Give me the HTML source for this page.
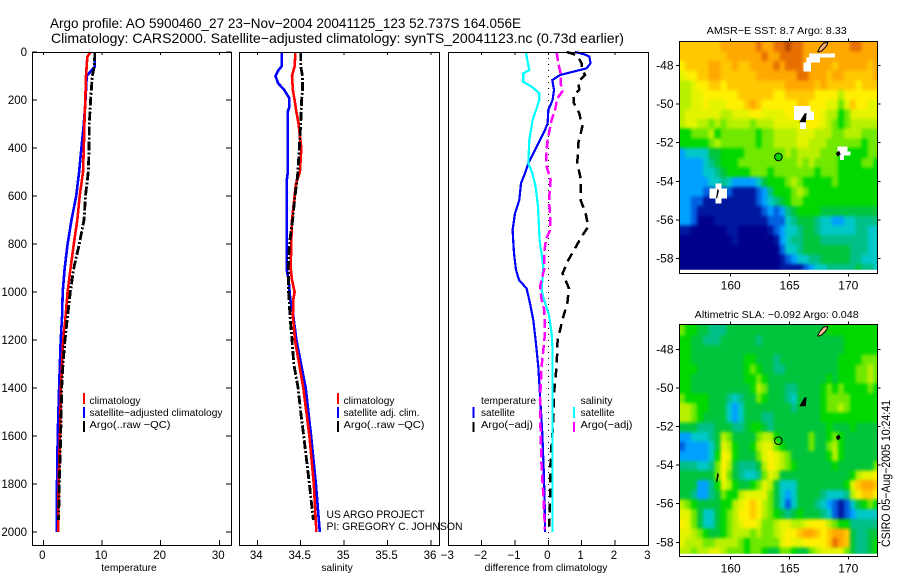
<!DOCTYPE html>
<html>
<head>
<meta charset="utf-8">
<title>Argo profile chart</title>
<style>
html,body{margin:0;padding:0;background:#fff;width:900px;height:580px;overflow:hidden}
svg{display:block}
text{font-family:"Liberation Sans",sans-serif;fill:#000}
</style>
</head>
<body>
<svg id="fig" xmlns="http://www.w3.org/2000/svg" width="900" height="580" viewBox="0 0 900 580">
  <defs>
    <filter id="soften" x="-5%" y="-5%" width="110%" height="110%" color-interpolation-filters="sRGB"><feGaussianBlur stdDeviation="1.6"/></filter>
    <clipPath id="sst-clip"><rect x="680" y="42" width="197" height="227.7"/></clipPath>
    <clipPath id="sla-clip"><rect x="680" y="325" width="197" height="228.7"/></clipPath>
  </defs>
  <rect x="0" y="0" width="900" height="580" fill="#fff"/>
  <text x="50" y="28" font-size="14" textLength="471" lengthAdjust="spacingAndGlyphs">Argo profile: AO 5900460_27 23−Nov−2004 20041125_123 52.737S 164.056E</text>
  <text x="51" y="43" font-size="14" textLength="573" lengthAdjust="spacingAndGlyphs">Climatology: CARS2000. Satellite−adjusted climatology: synTS_20041123.nc (0.73d earlier)</text>

  <g id="panels"></g>
  <g id="maps"></g>

  <g font-size="10.5">
    <line x1="84" y1="393" x2="84" y2="404" stroke="#ff0000" stroke-width="2"/>
    <line x1="84" y1="407" x2="84" y2="418" stroke="#0000ff" stroke-width="2"/>
    <line x1="84" y1="421" x2="84" y2="432" stroke="#000" stroke-width="2"/>
    <text x="89.5" y="404" textLength="51" lengthAdjust="spacingAndGlyphs">climatology</text>
    <text x="89.5" y="416" textLength="133" lengthAdjust="spacingAndGlyphs">satellite−adjusted climatology</text>
    <text x="89.5" y="428" textLength="81" lengthAdjust="spacingAndGlyphs">Argo(..raw −QC)</text>
  </g>
  <g font-size="10.5">
    <line x1="338" y1="393" x2="338" y2="404" stroke="#ff0000" stroke-width="2"/>
    <line x1="338" y1="407" x2="338" y2="418" stroke="#0000ff" stroke-width="2"/>
    <line x1="338" y1="421" x2="338" y2="432" stroke="#000" stroke-width="2"/>
    <text x="343.5" y="404" textLength="51" lengthAdjust="spacingAndGlyphs">climatology</text>
    <text x="343.5" y="416" textLength="76" lengthAdjust="spacingAndGlyphs">satellite adj. clim.</text>
    <text x="343.5" y="428" textLength="81" lengthAdjust="spacingAndGlyphs">Argo(..raw −QC)</text>
  </g>
  <g font-size="10.5">
    <text x="481" y="404" textLength="55" lengthAdjust="spacingAndGlyphs">temperature</text>
    <line x1="473.5" y1="407" x2="473.5" y2="418" stroke="#0000ff" stroke-width="2"/>
    <line x1="473.5" y1="422" x2="473.5" y2="432" stroke="#000" stroke-width="2"/>
    <text x="481" y="416" textLength="34" lengthAdjust="spacingAndGlyphs">satellite</text>
    <text x="481" y="428" textLength="52" lengthAdjust="spacingAndGlyphs">Argo(−adj)</text>
    <text x="580.5" y="404" textLength="32" lengthAdjust="spacingAndGlyphs">salinity</text>
    <line x1="574" y1="407" x2="574" y2="418" stroke="#00ffff" stroke-width="2"/>
    <line x1="574" y1="422" x2="574" y2="432" stroke="#ff00ff" stroke-width="2"/>
    <text x="580.5" y="416" textLength="34" lengthAdjust="spacingAndGlyphs">satellite</text>
    <text x="580.5" y="428" textLength="52" lengthAdjust="spacingAndGlyphs">Argo(−adj)</text>
  </g>
  <text x="326.5" y="518" font-size="11" textLength="98" lengthAdjust="spacingAndGlyphs">US ARGO PROJECT</text>
  <text x="326.5" y="530" font-size="11" textLength="136" lengthAdjust="spacingAndGlyphs">PI: GREGORY C. JOHNSON</text>
  <text transform="translate(890,547) rotate(-90)" font-size="12" textLength="147" lengthAdjust="spacingAndGlyphs">CSIRO 05−Aug−2005 10:24:41</text>
</svg>

<script>
// ---- temperature panel data ----
const tempClimDepth = [0,20,100,200,300,400,500,600,700,800,900,1000,1100,1200,1300,1400,1600,1800,2000];
const tempClim = [8.07,7.5,7.27,7.16,7.0,6.9,6.77,6.2,5.8,5.2,4.66,4.15,3.8,3.4,3.2,3.0,2.85,2.6,2.55];
const tempSatDepth = [0,60,100,200,300,400,500,600,700,800,900,1000,1100,1200,1400,1600,1800,2000];
const tempSat = [8.8,8.8,7.4,7.2,6.9,6.5,6.1,5.6,4.8,4.15,3.65,3.3,3.2,2.96,2.7,2.45,2.33,2.28];
const tempArgoDepth = [0,60,100,200,300,400,500,600,700,800,900,1000,1100,1200,1300,1400,1600,1800,1950];
const tempArgo = [8.8,8.7,8.35,8.07,7.84,7.8,7.67,7.2,6.93,6.14,5.2,4.6,4.15,3.7,3.35,3.13,2.97,2.73,2.6];

// ---- salinity panel data ----
const salClimDepth = [0,60,100,160,200,250,300,350,400,500,550,600,700,800,900,950,1000,1033,1100,1200,1400,1600,1800,2000];
const salClim = [34.44,34.43,34.40,34.41,34.43,34.45,34.476,34.49,34.507,34.49,34.445,34.43,34.40,34.39,34.385,34.40,34.43,34.415,34.41,34.434,34.53,34.6,34.65,34.68];
const salSatDepth = [0,60,78,100,130,158,193,228,250,505,533,908,950,1033,1100,1200,1400,1600,1800,2000];
const salSat = [34.28,34.28,34.24,34.21,34.24,34.31,34.37,34.37,34.35,34.35,34.34,34.34,34.36,34.38,34.415,34.45,34.557,34.62,34.675,34.72];
const salArgoDepth = [0,60,100,160,200,300,400,500,550,600,700,780,850,900,1000,1100,1200,1300,1400,1500,1600,1800,1950];
const salArgo = [34.50,34.50,34.52,34.52,34.51,34.50,34.484,34.468,34.453,34.434,34.407,34.376,34.36,34.357,34.36,34.376,34.40,34.42,34.47,34.50,34.534,34.6,34.645];

// ---- difference panel data ----
const diffTempSatDepth = [0,8,19,47,68,82,96,117,158,200,242,297,325,367,422,464,505,547,617,672,742,839,908,950,985,1047,1117,1200,1311,1400,1589,1728,1867,2000];
const diffTempSat = [0.8,1.05,1.23,1.27,1.15,0.75,0.35,0.12,0.17,0.13,0,-0.02,-0.1,-0.25,-0.45,-0.6,-0.7,-0.82,-0.87,-1.0,-1.07,-1.03,-0.97,-0.88,-0.65,-0.55,-0.45,-0.38,-0.3,-0.26,-0.18,-0.14,-0.11,-0.1];
const diffTempArgoDepth = [0,8,19,47,68,96,124,158,179,214,256,311,380,464,533,617,672,728,769,811,867,922,985,1047,1103,1200,1311,1422,1547,1686,1867,1978];
const diffTempArgo = [0.55,0.75,0.9,1.0,1.0,1.1,0.9,0.93,0.75,0.77,0.93,1.02,0.9,0.87,0.98,0.97,1.12,1.2,1.0,0.83,0.6,0.43,0.62,0.57,0.45,0.28,0.25,0.17,0.15,0.07,0.05,0.03];
const diffSalSatDepth = [0,33,75,89,124,144,172,200,242,283,367,464,505,561,644,783,894,992,1033,1095,1172,1242,2000];
const diffSalSat = [-0.67,-0.63,-0.57,-0.75,-0.75,-0.5,-0.27,-0.27,-0.37,-0.47,-0.57,-0.6,-0.48,-0.38,-0.31,-0.26,-0.15,-0.2,-0.13,0.02,0.1,0.13,0.13];
const diffSalArgoDepth = [0,47,89,130,165,193,242,283,367,436,478,533,617,672,742,783,839,908,978,1033,1075,1172,1311,1450,1589,1728,1867,1990];
const diffSalArgo = [0.25,0.3,0.37,0.37,0.42,0.27,0.2,0.1,-0.02,-0.07,-0.05,0.07,0.02,0.05,0.05,-0.07,-0.13,-0.13,-0.25,-0.2,-0.12,-0.1,-0.2,-0.25,-0.23,-0.2,-0.14,-0.1];
const zeroLineDepth = [0,2054];
const zeroLineDiff = [0,0];

// ---- tick labels ----
const depthTicks = [0,200,400,600,800,1000,1200,1400,1600,1800,2000];
const tempTicks = [0,10,20,30];
const tempTickLabels = ["0","10","20","30"];
const salTicks = [34,34.5,35,35.5,36];
const salTickLabels = ["34","34.5","35","35.5","36"];
const diffTicks = [-3,-2,-1,0,1,2,3];
const diffTickLabels = ["−3","−2","−1","0","1","2","3"];
const lonTicks = [160,165,170];
const latTicks = [-48,-50,-52,-54,-56,-58];

// ---- colour levels for the map cells ----
const levelColors = ["#00008c","#0018a0","#0060e0","#00a0ff","#00c8c8","#00c088","#00c43c","#00d800","#70e800","#b8f000","#e4f400","#fff000","#ffc800","#ffa800","#e87000","#b84800"];

// ---- SST map cells (0.5 degree rows, north to south) ----
const sstRow00 = [12,12,12,12,12,12,12,13,13,13,13,13,13,14,13,13,14,14,15,14,14,13,13,13,13,13,13,13,13,14,14,13,13,13];
const sstRow01 = [12,12,12,12,12,12,12,12,13,13,13,13,13,13,14,13,13,14,14,14,14,13,13,13,13,13,13,13,13,13,13,13,13,13];
const sstRow02 = [11,12,12,12,12,13,13,12,12,13,12,12,13,13,13,13,14,13,14,14,14,13,13,13,13,13,12,13,13,13,13,13,12,13];
const sstRow03 = [10,11,11,12,12,13,13,12,12,12,12,12,12,13,13,13,13,13,13,13,14,14,13,13,13,12,13,13,12,12,12,12,12,13];
const sstRow04 = [9,9,10,11,11,12,12,11,12,12,12,12,12,12,12,12,12,12,13,13,13,13,13,12,13,12,12,12,12,12,11,12,12,12];
const sstRow05 = [9,9,10,10,11,11,11,11,11,11,12,12,12,12,12,12,11,11,12,12,12,12,12,11,11,11,11,9,11,11,11,11,11,11];
const sstRow06 = [9,9,10,10,11,10,10,10,11,11,11,12,13,12,11,11,11,11,11,11,12,12,11,11,11,10,10,8,10,12,11,11,10,10];
const sstRow07 = [9,10,10,10,10,10,10,9,9,10,10,10,11,11,10,10,10,10,11,11,11,11,11,11,10,9,9,7,8,10,10,10,10,10];
const sstRow08 = [9,10,10,9,9,8,9,8,9,9,9,9,8,9,9,9,10,10,10,10,10,11,11,11,10,9,8,7,8,9,9,9,9,9];
const sstRow09 = [7,7,8,8,8,9,7,8,8,8,8,8,8,7,8,8,9,9,9,9,10,10,10,9,9,9,8,8,9,9,9,8,8,8];
const sstRow10 = [7,7,7,7,7,8,9,8,8,8,8,8,8,7,8,8,9,9,9,9,10,10,9,9,9,8,8,8,8,8,8,7,8,8];
const sstRow11 = [3,4,4,4,4,6,6,7,7,7,7,8,8,8,8,8,8,8,9,8,9,9,9,9,8,8,8,7,7,7,7,7,8,8];
const sstRow12 = [3,3,3,3,4,5,6,7,7,7,8,8,8,8,8,8,8,8,8,8,9,8,9,8,8,8,8,7,7,7,7,8,8,7];
const sstRow13 = [3,3,3,3,4,4,5,6,7,7,7,7,8,8,8,7,8,8,8,8,8,8,8,7,8,8,8,7,7,7,7,7,7,7];
const sstRow14 = [3,3,3,3,3,4,4,5,4,3,3,3,3,4,6,7,7,7,8,9,8,7,7,7,7,7,8,7,7,7,7,7,7,7];
const sstRow15 = [3,3,3,3,2,2,2,2,2,1,1,1,1,2,3,5,7,7,7,8,9,8,7,7,7,7,7,7,7,7,7,7,7,7];
const sstRow16 = [3,3,2,2,1,1,1,1,1,1,1,1,1,2,3,4,5,6,7,8,8,7,7,7,7,7,7,7,7,7,7,7,7,7];
const sstRow17 = [3,3,2,1,1,1,1,1,1,1,1,1,1,1,2,3,2,3,5,6,7,7,7,7,6,6,6,6,6,6,6,6,6,6];
const sstRow18 = [3,3,2,0,0,0,1,1,1,1,1,1,1,1,1,2,2,2,4,5,6,6,6,5,4,4,3,3,4,4,5,5,5,5];
const sstRow19 = [1,1,0,0,0,0,0,0,1,1,0,0,0,0,0,1,2,3,4,4,5,6,6,5,4,4,4,4,4,4,5,5,4,4];
const sstRow20 = [0,0,0,0,0,0,0,0,0,1,0,0,0,0,0,0,1,3,4,5,5,6,6,6,5,5,5,5,5,5,5,5,4,4];
const sstRow21 = [0,0,0,0,0,0,0,0,0,0,0,0,0,0,0,0,0,2,4,4,5,6,6,6,6,6,6,6,6,5,5,5,4,4];
const sstRow22 = [0,0,0,0,0,0,0,0,0,0,0,0,0,0,0,0,0,1,2,3,4,4,5,5,6,6,6,6,6,5,5,4,4,4];
const sstRow23 = [0,0,0,0,0,0,0,0,0,0,0,0,0,0,0,0,0,1,1,1,1,2,3,4,4,5,5,5,5,5,6,5,5,4];
const sstRows = [sstRow00,sstRow01,sstRow02,sstRow03,sstRow04,sstRow05,sstRow06,sstRow07,sstRow08,sstRow09,sstRow10,sstRow11,sstRow12,sstRow13,sstRow14,sstRow15,sstRow16,sstRow17,sstRow18,sstRow19,sstRow20,sstRow21,sstRow22,sstRow23];

// ---- SLA map cells ----
const slaRow00 = [8,7,7,6,6,5,5,5,6,6,6,6,6,6,6,6,6,6,6,6,6,6,6,6,6,7,7,7,7,7,7,7,7,7];
const slaRow01 = [7,7,6,6,5,5,5,6,6,6,6,6,6,5,6,6,6,6,6,6,6,6,6,6,6,6,6,6,7,7,7,7,7,7];
const slaRow02 = [7,7,6,6,6,6,6,6,6,6,6,6,6,6,6,6,6,6,6,6,6,6,6,6,6,6,6,6,7,7,7,7,7,7];
const slaRow03 = [7,7,6,6,6,6,6,6,6,6,6,7,7,6,6,6,5,6,6,6,6,6,6,6,6,6,6,7,7,7,7,8,8,8];
const slaRow04 = [7,7,7,6,6,6,6,6,6,6,6,7,8,7,6,6,5,5,6,6,6,6,6,6,6,6,6,7,7,7,8,8,9,8];
const slaRow05 = [7,7,6,6,6,6,6,6,6,6,6,7,7,8,7,6,6,6,6,6,6,6,6,6,6,7,6,7,7,7,8,8,9,8];
const slaRow06 = [7,7,6,6,6,6,6,6,6,6,6,6,7,9,8,6,6,6,5,5,6,6,6,6,7,8,7,8,7,7,7,7,8,7];
const slaRow07 = [8,7,7,7,7,6,6,6,5,4,5,6,6,8,7,6,6,6,5,4,6,6,6,6,7,8,8,8,8,7,7,7,7,7];
const slaRow08 = [9,9,8,7,7,6,6,6,4,3,4,6,6,6,6,6,6,6,6,5,6,6,6,6,7,8,8,9,8,7,7,7,7,7];
const slaRow09 = [9,9,8,7,6,6,6,6,4,3,4,6,6,6,5,5,6,6,6,6,6,6,6,6,7,7,7,7,7,7,7,7,7,7];
const slaRow10 = [6,6,6,5,5,5,6,6,6,5,5,6,7,7,6,5,6,6,6,6,6,6,6,6,6,7,6,6,6,7,6,6,6,6];
const slaRow11 = [3,3,4,4,4,5,6,9,8,6,6,6,6,8,9,9,7,6,6,6,6,6,8,6,6,7,8,7,6,6,6,6,6,6];
const slaRow12 = [2,3,3,3,3,4,6,10,9,7,6,6,7,9,10,10,8,7,6,6,6,6,8,6,6,8,9,7,6,6,6,6,6,6];
const slaRow13 = [3,3,3,3,3,4,7,11,10,7,6,6,6,8,10,11,10,9,8,6,6,6,6,6,6,7,9,7,6,6,6,6,6,6];
const slaRow14 = [5,5,5,4,4,5,8,11,9,6,5,5,5,6,9,11,10,9,8,7,6,6,6,6,6,6,7,6,6,6,6,6,6,8];
const slaRow15 = [6,6,6,6,6,6,8,11,8,6,5,4,4,5,8,10,9,6,6,6,6,6,6,6,6,6,6,6,6,7,9,10,10,11];
const slaRow16 = [6,6,6,3,3,5,7,10,9,7,6,6,7,8,10,9,6,4,4,4,6,6,6,6,6,6,6,6,7,10,12,13,13,12];
const slaRow17 = [6,6,5,3,3,5,6,8,7,7,9,10,10,10,10,8,6,4,3,4,6,6,6,6,5,4,4,4,5,9,11,12,12,11];
const slaRow18 = [9,8,7,6,6,6,6,7,7,9,10,11,12,11,9,8,6,4,2,4,6,6,6,5,4,3,2,1,2,4,6,7,8,7];
const slaRow19 = [10,10,8,6,4,4,6,7,8,9,11,11,12,11,9,8,7,6,5,6,7,6,6,6,5,4,2,1,2,3,4,4,4,4];
const slaRow20 = [11,10,8,6,4,4,6,7,8,9,10,11,11,10,8,8,9,10,10,9,9,10,11,11,11,9,8,7,7,5,5,5,5,5];
const slaRow21 = [10,10,9,8,7,6,6,7,8,9,9,9,8,9,8,8,9,10,11,11,12,13,13,12,11,12,13,13,12,6,5,5,6,6];
const slaRow22 = [10,9,9,9,8,8,9,9,9,9,8,7,8,8,8,8,8,10,11,10,10,11,11,11,11,12,14,13,12,6,5,5,6,7];
const slaRow23 = [9,9,8,9,9,10,10,9,8,8,8,7,8,8,7,6,6,8,8,7,6,6,8,9,10,10,10,10,8,6,5,5,6,7];
const slaRows = [slaRow00,slaRow01,slaRow02,slaRow03,slaRow04,slaRow05,slaRow06,slaRow07,slaRow08,slaRow09,slaRow10,slaRow11,slaRow12,slaRow13,slaRow14,slaRow15,slaRow16,slaRow17,slaRow18,slaRow19,slaRow20,slaRow21,slaRow22,slaRow23];

// ---- SST data gaps: west, east, north, south edges (deg) ----
const sstGapWest  = [166.66,166.46,166.18,165.39,166.8,165.9,169.1,169.95,169.3,158.18,158.7,158.7];
const sstGapEast  = [168.87,167.6,166.83,166.8,167.1,166.4,169.95,170.2,169.63,159.7,159.2,159.2];
const sstGapNorth = [-47.38,-47.6,-47.86,-50.10,-50.4,-50.83,-52.2,-52.45,-52.66,-54.36,-54.1,-54.88];
const sstGapSouth = [-47.6,-47.86,-48.33,-50.83,-50.83,-51.3,-52.66,-52.66,-52.9,-54.88,-54.36,-55.14];

// ---- float position and islands (lon/lat) ----
const floatLon = 164.056;
const floatLat = -52.737;
const stewartLon = [167.4,167.55,167.9,168.25,168.2,168.0,167.75,167.45];
const stewartLat = [-47.3,-47.1,-46.85,-46.82,-46.95,-47.1,-47.25,-47.32];
const aucklandLon = [165.9,166.3,166.4,166.35];
const aucklandLat = [-50.92,-50.52,-50.5,-50.92];
const campbellLon = [169.0,169.2,169.3,169.1];
const campbellLat = [-52.55,-52.45,-52.6,-52.68];
const macquarieLon = [158.8,158.9,158.95,158.82];
const macquarieLat = [-54.85,-54.45,-54.5,-54.85];

const NS = 'http://www.w3.org/2000/svg';
const panelsG = document.getElementById('panels');
const mapsG = document.getElementById('maps');

function mk(tag, parent){
  const e = document.createElementNS(NS, tag);
  parent.appendChild(e);
  return e;
}
function setA(e, o){ for (const k in o) e.setAttribute(k, o[k]); }

function linear(d0, d1, p0, p1){
  return function(v){ return p0 + (v - d0) * (p1 - p0) / (d1 - d0); };
}

const depthY = linear(0, 2000, 52, 532);
const tempX = linear(0, 30, 43.3, 219.3);
const salX = linear(34, 36, 257.3, 431);
const diffX = linear(-3, 3, 448.3, 648.3);

function drawBox(parent, x0, y0, x1, y1){
  const r = mk('rect', parent);
  
  
  setA(r, {x:x0, y:y0, width:x1-x0, height:y1-y0, fill:'none', stroke:'#000', 'stroke-width':1.2, 'shape-rendering':'crispEdges'});
}
function tickLine(parent, x1, y1, x2, y2){
  const l = mk('line', parent);
  
  
  setA(l, {x1:x1, y1:y1, x2:x2, y2:y2, stroke:'#000', 'stroke-width':1, 'shape-rendering':'crispEdges'});
}
function label(parent, x, y, str, size, anchor){
  const t = mk('text', parent);
  
  
  setA(t, {x:x, y:y, 'font-size':size, 'text-anchor':anchor});
  t.textContent = str;
}
function axisTitle(parent, x, y, str){
  const t = mk('text', parent);
  
  
  setA(t, {x:x, y:y, 'font-size':10.3, 'text-anchor':'middle'});
  t.textContent = str;
}
function series(parent, name, xs, depths, xFn, color, width, dash){
  const pts = [];
  for (let i = 0; i < xs.length; i++) pts.push(xFn(xs[i]).toFixed(1) + ',' + depthY(depths[i]).toFixed(1));
  const p = mk('polyline', parent);
  
  
  setA(p, {points:pts.join(' '), fill:'none', stroke:color, 'stroke-width':width, 'shape-rendering':'crispEdges'});
  if (dash) p.setAttribute('stroke-dasharray', dash);
}
function panel(name, x0, x1, xFn, ticks, labels, title, titleX){
  const g = mk('g', panelsG);
  
  
  ticks.forEach(function(v, i){
    const px = xFn(v);
    tickLine(g, px, 52, px, 55);
    tickLine(g, px, 545, px, 540);
    label(g, px - 1, 559, labels[i], 11.5, 'middle');
  });
  axisTitle(g, titleX, 571, title);
  return g;
}

// temperature panel
const p1 = panel('temperature-panel', 32.5, 231.5, tempX, tempTicks, tempTickLabels, 'temperature', 129);
depthTicks.forEach(function(d){
  const y = depthY(d);
  tickLine(p1, 32.5, y, 37, y);
  tickLine(p1, 231.5, y, 226, y);
  label(p1, 27, y + 4, String(d), 11.5, 'end');
});
series(p1, 'temperature-satellite-line', tempSat, tempSatDepth, tempX, '#0000ff', 2.6);
series(p1, 'temperature-climatology-line', tempClim, tempClimDepth, tempX, '#ff0000', 2.6);
series(p1, 'temperature-argo-line', tempArgo, tempArgoDepth, tempX, '#000', 2.8, '9 2 2 2');
drawBox(p1, 32.5, 52.5, 231.5, 545.5);

// salinity panel
const p2 = panel('salinity-panel', 239.5, 439.5, salX, salTicks, salTickLabels, 'salinity', 337);
series(p2, 'salinity-satellite-line', salSat, salSatDepth, salX, '#0000ff', 2.6);
series(p2, 'salinity-climatology-line', salClim, salClimDepth, salX, '#ff0000', 2.6);
series(p2, 'salinity-argo-line', salArgo, salArgoDepth, salX, '#000', 2.8, '9 2 2 2');
drawBox(p2, 239.5, 52.5, 439.5, 545.5);

// difference panel
const p3 = panel('difference-panel', 448.5, 648.5, diffX, diffTicks, diffTickLabels, 'difference from climatology', 546);
series(p3, 'zero-reference-line', zeroLineDiff, zeroLineDepth, diffX, '#000', 1, '1 5');
series(p3, 'difference-temp-satellite-line', diffTempSat, diffTempSatDepth, diffX, '#0000ff', 2.2);
series(p3, 'difference-temp-argo-line', diffTempArgo, diffTempArgoDepth, diffX, '#000', 2.5, '9 6');
series(p3, 'difference-sal-satellite-line', diffSalSat, diffSalSatDepth, diffX, '#00ffff', 2.2);
series(p3, 'difference-sal-argo-line', diffSalArgo, diffSalArgoDepth, diffX, '#ff00ff', 2.5, '9 4');
drawBox(p3, 448.5, 52.5, 648.5, 545.5);

// maps
const mapLon = linear(160, 170, 730.7, 848.3);

function drawMap(name, clipId, rows, latToY, top, boxBottom, titleText, titleY, titleLen){
  const g = mk('g', mapsG);
  
  

  const clipG = mk('g', g);
  
  
  clipG.setAttribute('clip-path', 'url(#' + clipId + ')');
  const imageG = mk('g', clipG);
  
  
  imageG.setAttribute('filter', 'url(#soften)');

  const lat0 = -46.78;
  const lon0 = 155.63;
  rows.forEach(function(row, r){
    row.forEach(function(v, c){
      let x0 = mapLon(lon0 + c * 0.5);
      let x1 = mapLon(lon0 + (c + 1) * 0.5);
      let y0 = latToY(lat0 - r * 0.5);
      let y1 = latToY(lat0 - (r + 1) * 0.5);
      if (c === 0) x0 -= 8;
      if (c === row.length - 1) x1 += 8;
      if (r === 0) y0 -= 8;
      if (r === rows.length - 1) y1 += 8;
      const cell = mk('rect', imageG);
      
      
      setA(cell, {x:x0.toFixed(2), y:y0.toFixed(2), width:(x1-x0+0.3).toFixed(2), height:(y1-y0+0.3).toFixed(2), fill:levelColors[v], 'shape-rendering':'crispEdges'});
    });
  });

  lonTicks.forEach(function(v){
    const px = mapLon(v);
    tickLine(g, px, top - 3, px, top);
    tickLine(g, px, boxBottom, px, boxBottom + 3);
    label(g, px, boxBottom + 16, String(v), 12, 'middle');
  });
  latTicks.forEach(function(v){
    const py = latToY(v);
    tickLine(g, 676, py, 679.5, py);
    tickLine(g, 877.5, py, 880.5, py);
    label(g, 673.5, py + 4, String(v), 12, 'end');
  });

  const t = mk('text', g);
  
  
  setA(t, {x:776.7, y:titleY, 'font-size':10.5, 'text-anchor':'middle', textLength:titleLen, lengthAdjust:'spacingAndGlyphs'});
  t.textContent = titleText;

  drawBox(g, 679.5, top, 877.5, boxBottom);
  return g;
}
function island(parent, name, lons, lats, latToY, fill){
  const pts = [];
  for (let i = 0; i < lons.length; i++) pts.push(mapLon(lons[i]).toFixed(1) + ',' + latToY(lats[i]).toFixed(1));
  const p = mk('polygon', parent);
  
  
  setA(p, {points:pts.join(' '), fill:fill, stroke:'#000', 'stroke-width':1});
}
function floatMarker(parent, latToY, fill){
  const c = mk('circle', parent);
  
  
  setA(c, {cx:mapLon(floatLon).toFixed(1), cy:latToY(floatLat).toFixed(1), r:3.8, fill:fill, stroke:'#000', 'stroke-width':1});
}

const sstY = linear(-48, -58, 65.3, 258.7);
const slaY = linear(-48, -58, 349.3, 542.3);

const m1 = drawMap('sst-map', 'sst-clip', sstRows, sstY, 41.5, 273.5, 'AMSR−E SST: 8.7 Argo: 8.33', 34, 140);
sstGapWest.forEach(function(w, i){
  const gap = mk('rect', m1);
  
  
  setA(gap, {x:mapLon(w).toFixed(1), y:sstY(sstGapNorth[i]).toFixed(1), width:(mapLon(sstGapEast[i])-mapLon(w)).toFixed(1), height:(sstY(sstGapSouth[i])-sstY(sstGapNorth[i])).toFixed(1), fill:'#fff', 'shape-rendering':'crispEdges'});
});
island(m1, 'stewart-island', stewartLon, stewartLat, sstY, '#ffb070');
island(m1, 'auckland-island', aucklandLon, aucklandLat, sstY, '#000');
island(m1, 'campbell-island', campbellLon, campbellLat, sstY, '#000');
island(m1, 'macquarie-island', macquarieLon, macquarieLat, sstY, '#000');
floatMarker(m1, sstY, '#00d000');

const m2 = drawMap('sla-map', 'sla-clip', slaRows, slaY, 324.5, 556.5, 'Altimetric SLA: −0.092 Argo: 0.048', 318, 164);
island(m2, 'stewart-island', stewartLon, stewartLat, slaY, '#ffc090');
island(m2, 'auckland-island', aucklandLon, aucklandLat, slaY, '#000');
island(m2, 'campbell-island', campbellLon, campbellLat, slaY, '#000');
island(m2, 'macquarie-island', macquarieLon, macquarieLat, slaY, '#000');
floatMarker(m2, slaY, 'none');
</script>
</body>
</html>
